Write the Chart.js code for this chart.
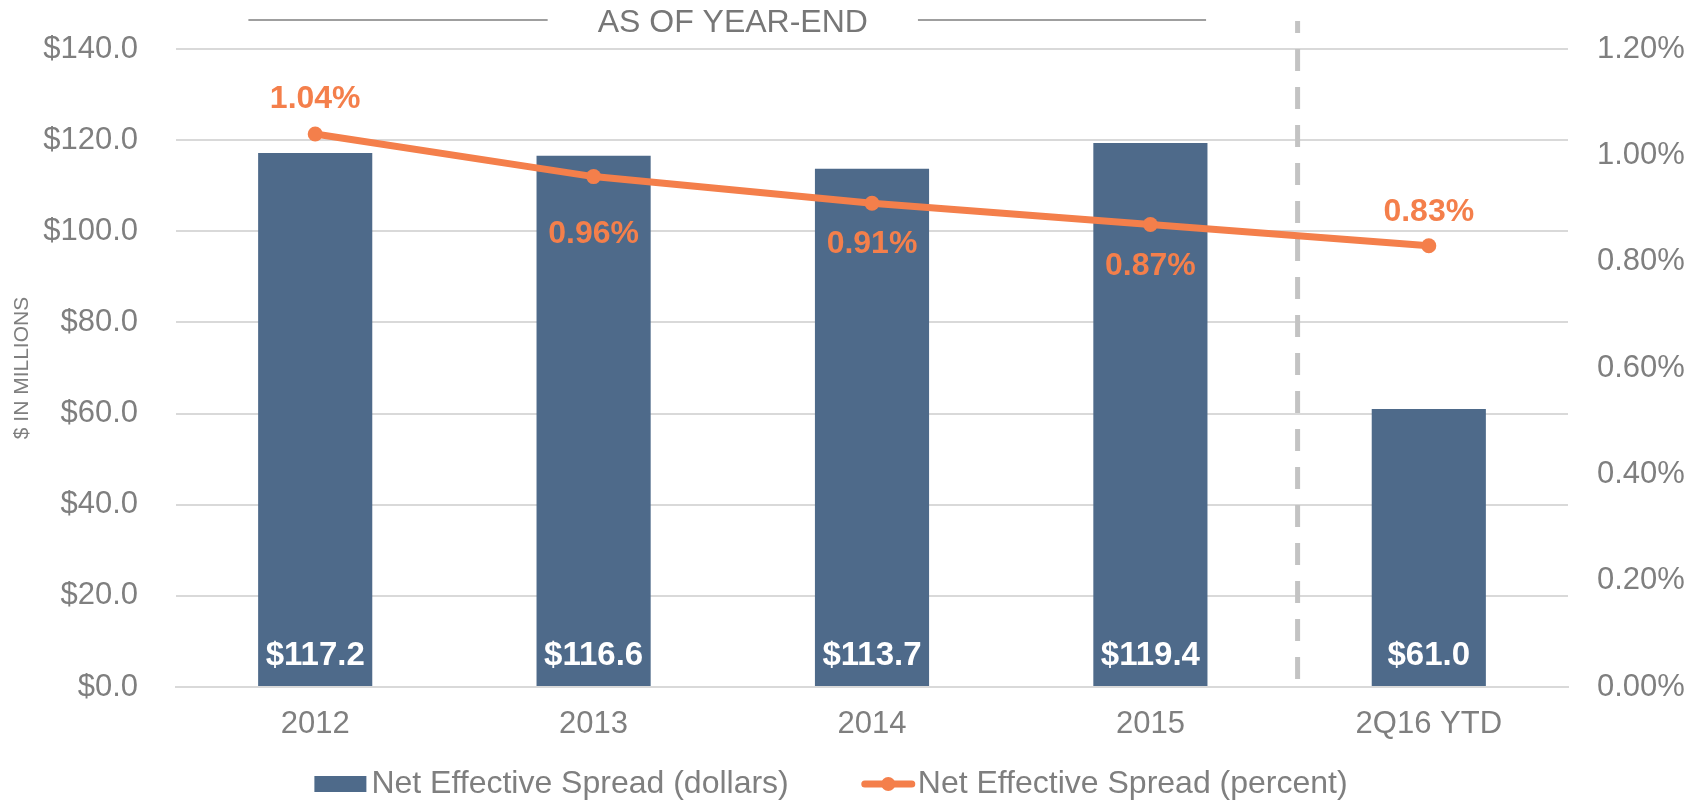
<!DOCTYPE html>
<html>
<head>
<meta charset="utf-8">
<script src="https://cdn.jsdelivr.net/npm/chart.js@4.4.1/dist/chart.umd.min.js"></script>
<style>
  html, body { margin: 0; padding: 0; background: #fff; }
  #wrap { width: 1706px; height: 802px; }
</style>
</head>
<body>
<div id="wrap"><canvas id="spreadChart" width="1706" height="802"></canvas></div>
<script>
// data
const categories = ["2012", "2013", "2014", "2015", "2Q16 YTD"];
const spreadDollars = [117.2, 116.6, 113.7, 119.4, 61.0];
const spreadPercent = [1.04, 0.96, 0.91, 0.87, 0.83];
const dollarTicks = [0, 20, 40, 60, 80, 100, 120, 140];
const percentTicks = [0, 0.2, 0.4, 0.6, 0.8, 1.0, 1.2];
const seriesNames = ["Net Effective Spread (dollars)", "Net Effective Spread (percent)"];
const axisTitle = "$ IN MILLIONS";
const headerText = "AS OF YEAR-END";

// look
const BAR_BLUE = "#4e6a8a";
const ORANGE = "#f47f4b";
const GREY_TEXT = "#7f7f7f";
const GRID = "#d9d9d9";
const FONT = "'Liberation Sans', Arial, sans-serif";
const pctLabelShift = [-35, 58, 41, 42, -34]; // label above / below each point

const valueLabels = {
    id: "valueLabels",
    afterDatasetsDraw(chart) {
        const ctx = chart.ctx;
        const bars = chart.getDatasetMeta(0).data;
        const pts = chart.getDatasetMeta(1).data;
        const base = chart.scales.y.getPixelForValue(0);
        ctx.save();
        ctx.textAlign = "center";
        ctx.textBaseline = "middle";
        ctx.font = "bold 33px " + FONT;
        ctx.fillStyle = "#ffffff";
        bars.forEach((b, i) => ctx.fillText("$" + spreadDollars[i].toFixed(1), b.x, base - 31));
        ctx.font = "bold 32px " + FONT;
        ctx.fillStyle = ORANGE;
        pts.forEach((p, i) => ctx.fillText(spreadPercent[i].toFixed(2) + "%", p.x, p.y + pctLabelShift[i]));
        ctx.restore();
    }
};

const decorations = {
    id: "decorations",
    beforeDatasetsDraw(chart) {
        // dashed divider between the year-end columns and the YTD column
        const ctx = chart.ctx;
        const x = chart.scales.x;
        const xd = (x.getPixelForValue(3) + x.getPixelForValue(4)) / 2 + 8;
        ctx.save();
        ctx.strokeStyle = "#c3c3c3";
        ctx.lineWidth = 5;
        ctx.setLineDash([22, 16]);
        ctx.lineDashOffset = 10;
        ctx.beginPath();
        ctx.moveTo(xd, 21);
        ctx.lineTo(xd, chart.chartArea.bottom - 4);
        ctx.stroke();
        ctx.restore();
    },
    afterDraw(chart) {
        const ctx = chart.ctx;
        const x = chart.scales.x;
        const step = x.getPixelForValue(1) - x.getPixelForValue(0);
        const left = x.getPixelForValue(0) - 0.24 * step;
        const right = x.getPixelForValue(3) + 0.2 * step;
        const mid = (x.getPixelForValue(0) + x.getPixelForValue(3)) / 2;
        ctx.save();
        ctx.font = "32px " + FONT;
        ctx.textAlign = "center";
        ctx.textBaseline = "middle";
        ctx.fillStyle = "#777777";
        ctx.fillText(headerText, mid, 23);
        const tw = ctx.measureText(headerText).width;
        ctx.strokeStyle = "#808080";
        ctx.lineWidth = 1.5;
        ctx.beginPath();
        ctx.moveTo(left, 20);
        ctx.lineTo(mid - tw / 2 - 50, 20);
        ctx.moveTo(mid + tw / 2 + 50, 20);
        ctx.lineTo(right, 20);
        ctx.stroke();

        // legend
        const ds = chart.data.datasets;
        ctx.font = "32px " + FONT;
        ctx.textAlign = "left";
        const w0 = ctx.measureText(ds[0].label).width;
        const w1 = ctx.measureText(ds[1].label).width;
        const total = 52 + 5 + w0 + 72 + 55 + 2 + w1;
        let lx = chart.width / 2 - 22 - total / 2;
        const ly = 784;
        ctx.fillStyle = ds[0].backgroundColor;
        ctx.fillRect(lx, ly - 8, 52, 16);
        lx += 57;
        ctx.fillStyle = GREY_TEXT;
        ctx.fillText(ds[0].label, lx, ly);
        lx += w0 + 72;
        ctx.strokeStyle = ds[1].borderColor;
        ctx.lineWidth = 7;
        ctx.lineCap = "round";
        ctx.beginPath();
        ctx.moveTo(lx + 4, ly);
        ctx.lineTo(lx + 51, ly);
        ctx.stroke();
        ctx.fillStyle = ds[1].borderColor;
        ctx.beginPath();
        ctx.arc(lx + 27.5, ly, 7, 0, Math.PI * 2);
        ctx.fill();
        lx += 57;
        ctx.fillStyle = GREY_TEXT;
        ctx.fillText(ds[1].label, lx, ly);
        ctx.restore();
    }
};

const canvas = document.getElementById("spreadChart");
const tickFont = { family: FONT, size: 31 };

// the y axes report their tick padding as top padding, which pushes the plot down
function fixVertical(width) {
    return s => {
        s.width = width;
        s.paddingTop = 0;
        s.paddingBottom = 0;
    };
}

new Chart(canvas.getContext("2d"), {
    type: "bar",
    data: {
        labels: categories,
        datasets: [{
            type: "bar",
            label: seriesNames[0],
            data: spreadDollars,
            yAxisID: "y",
            backgroundColor: BAR_BLUE,
            categoryPercentage: 0.5,
            barPercentage: 0.82,
            order: 2
        }, {
            type: "line",
            label: seriesNames[1],
            data: spreadPercent,
            yAxisID: "y1",
            borderColor: ORANGE,
            backgroundColor: ORANGE,
            borderWidth: 7,
            pointRadius: 7.5,
            pointBackgroundColor: ORANGE,
            pointBorderWidth: 0,
            tension: 0,
            order: 1
        }]
    },
    options: {
        responsive: false,
        animation: false,
        layout: { autoPadding: false, padding: { top: 49, right: 0, bottom: 55, left: 0 } },
        plugins: {
            legend: { display: false },
            tooltip: { enabled: false }
        },
        scales: {
            x: {
                offset: true,
                grid: { display: false, drawTicks: false },
                border: { color: GRID, width: 2 },
                ticks: { color: GREY_TEXT, font: tickFont, padding: 19 },
                afterFit: s => { s.height = 60; }
            },
            y: {
                position: "left",
                min: dollarTicks[0],
                max: dollarTicks[dollarTicks.length - 1],
                grid: { color: GRID, lineWidth: 2, drawTicks: false },
                border: { display: false },
                ticks: {
                    color: GREY_TEXT,
                    font: tickFont,
                    padding: 38,
                    callback: v => "$" + Number(v).toFixed(1)
                },
                title: {
                    display: true,
                    text: axisTitle,
                    color: GREY_TEXT,
                    font: { family: FONT, size: 21 },
                    padding: { top: 10, bottom: 0 }
                },
                afterBuildTicks: s => { s.ticks = dollarTicks.map(v => ({ value: v })); },
                afterFit: fixVertical(176)
            },
            y1: {
                position: "right",
                min: percentTicks[0],
                max: percentTicks[percentTicks.length - 1],
                grid: { display: false, drawTicks: false },
                border: { display: false },
                ticks: {
                    color: GREY_TEXT,
                    font: tickFont,
                    padding: 29,
                    callback: v => Number(v).toFixed(2) + "%"
                },
                afterBuildTicks: s => { s.ticks = percentTicks.map(v => ({ value: v })); },
                afterFit: fixVertical(138)
            }
        }
    },
    plugins: [decorations, valueLabels]
});
</script>
</body>
</html>
